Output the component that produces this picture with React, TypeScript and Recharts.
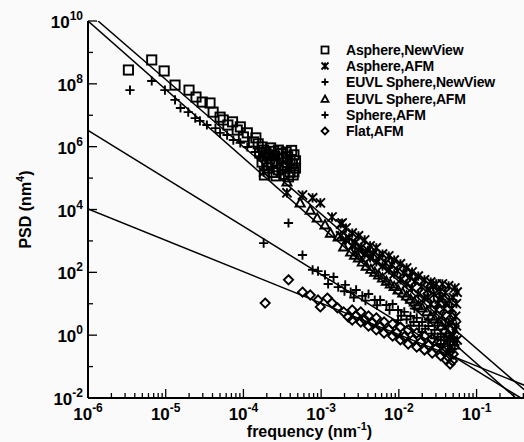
import React from 'react';
import { ScatterChart, Scatter, XAxis, YAxis, Legend } from 'recharts';

const FONT = '"Liberation Sans", Arial, Helvetica, sans-serif';

// points as [log10 frequency (nm^-1), log10 PSD (nm^4)]
const asphereNewView = [
  [-5.48, 8.44], [-5.18, 8.76], [-5.02, 8.41], [-4.88, 7.96], [-4.7, 7.8], [-4.61, 7.58],
  [-4.53, 7.42], [-4.43, 7.39], [-4.39, 7.1], [-4.3, 6.94], [-4.26, 6.85], [-4.2, 6.69],
  [-4.14, 6.79], [-4.08, 6.53], [-4.04, 6.63], [-4.0, 6.31], [-3.95, 6.44], [-3.87, 6.15],
  [-3.84, 6.28], [-3.81, 6.09], [-3.74, 5.89], [-3.69, 5.74], [-3.76, 5.99], [-3.71, 5.83],
  [-3.65, 5.96], [-3.6, 5.7], [-3.55, 5.89], [-3.5, 5.64], [-3.45, 5.83], [-3.4, 5.58],
  [-3.35, 5.74], [-3.76, 5.51], [-3.68, 5.32], [-3.63, 5.51], [-3.55, 5.26], [-3.47, 5.39],
  [-3.4, 5.19], [-3.33, 5.32], [-3.73, 5.1], [-3.58, 5.07], [-3.42, 5.04], [-3.37, 5.45],
  [-3.33, 5.55], [-3.62, 5.18], [-3.48, 5.12], [-3.36, 5.1], [-3.74, 5.7], [-3.66, 5.62],
  [-3.58, 5.46], [-3.52, 5.78], [-3.44, 5.5], [-3.38, 5.88], [-3.7, 5.42], [-3.61, 5.85],
  [-3.5, 5.32], [-3.43, 5.68], [-3.35, 5.2], [-3.79, 5.8],
];

const asphereAfm = [
  [-3.74, 5.19], [-3.44, 4.53], [-3.24, 4.46], [-3.11, 4.37], [-3.01, 4.21], [-2.86, 3.76],
  [-2.73, 3.57], [-2.6, 3.25], [-2.75, 3.54], [-2.75, 3.16], [-2.68, 3.41], [-2.68, 3.03],
  [-2.6, 2.84], [-2.52, 3.16], [-2.52, 2.71], [-2.44, 3.03], [-2.44, 2.58], [-2.37, 2.84],
  [-2.37, 2.46], [-2.29, 2.78], [-2.29, 2.33], [-2.21, 2.58], [-2.21, 2.2], [-2.13, 2.52],
  [-2.13, 2.08], [-2.06, 2.39], [-2.06, 1.95], [-1.98, 2.27], [-1.98, 1.76], [-1.9, 2.14],
  [-1.9, 1.63], [-1.83, 2.01], [-1.83, 1.5], [-1.75, 1.88], [-1.75, 1.31], [-1.67, 1.76],
  [-1.67, 1.18], [-1.59, 1.69], [-1.59, 0.99], [-1.52, 1.63], [-1.52, 0.8], [-1.44, 1.63],
  [-1.44, 0.61], [-1.36, 1.57], [-1.36, 0.36], [-1.28, 1.5], [-1.28, 0.17], [-1.25, 1.37],
  [-1.25, -0.15], [-2.17, 2.3], [-2.02, 2.05], [-1.86, 1.85], [-1.71, 1.55], [-1.63, 1.45],
  [-1.55, 1.3], [-1.48, 1.15], [-1.4, 1.0], [-1.32, 0.85], [-1.27, 0.6], [-1.3, 1.2],
  [-1.4, 1.35], [-1.26, 1.0], [-1.32, 0.4], [-1.47, 1.4], [-2.64, 3.1], [-2.56, 2.95],
  [-2.48, 2.8], [-2.4, 2.7], [-2.33, 2.6], [-2.25, 2.5], [-2.09, 2.25], [-1.94, 1.98],
  [-1.79, 1.72], [-1.63, 1.2], [-1.56, 1.55], [-1.5, 1.0], [-1.42, 0.85], [-1.34, 0.65],
  [-1.3, 0.0], [-1.26, 0.3], [-1.35, 1.1], [-1.44, 1.2],
];

const euvlSphereNewView = [
  [-5.46, 7.8], [-5.18, 8.09], [-5.01, 7.8], [-4.88, 7.49], [-4.81, 7.23], [-4.71, 7.1],
  [-4.62, 6.91], [-4.56, 6.82], [-4.47, 6.69], [-4.36, 6.59], [-4.3, 6.44], [-4.21, 6.37],
  [-4.13, 6.21], [-4.04, 6.12], [-3.95, 5.99], [-3.85, 5.83], [-3.78, 5.7],
];

const euvlSphereAfm = [
  [-3.44, 4.88], [-3.27, 4.21], [-3.14, 3.98], [-3.05, 3.73], [-2.95, 3.51], [-2.88, 3.25],
  [-2.78, 3.13], [-2.71, 2.81], [-2.62, 2.65], [-2.57, 2.55], [-2.52, 2.46], [-2.47, 2.33],
  [-2.42, 2.2], [-2.36, 2.1], [-2.31, 2.01], [-2.26, 1.92], [-2.21, 1.82], [-2.16, 1.72],
  [-2.11, 1.63], [-2.06, 1.55], [-2.01, 1.44], [-1.95, 1.35], [-1.9, 1.25], [-1.85, 1.15],
  [-1.8, 1.06], [-1.75, 0.95], [-1.7, 0.87], [-1.64, 0.75], [-1.59, 0.61], [-1.54, 0.52],
  [-1.49, 0.42], [-1.45, 0.3], [-1.41, 0.17], [-1.37, 0.05], [-1.34, -0.09], [-1.3, -0.2],
  [-1.28, -0.31],
];

const sphereAfm = [
  [-3.74, 2.93], [-3.42, 3.57], [-3.24, 2.55], [-3.11, 2.08], [-3.04, 2.04], [-2.95, 1.92],
  [-2.84, 1.85], [-2.91, 1.63], [-2.78, 1.53], [-2.69, 1.6], [-2.62, 1.37], [-2.55, 1.44],
  [-2.47, 1.25], [-2.39, 1.31], [-2.31, 1.12], [-2.24, 1.12], [-2.16, 0.96], [-2.08, 0.99],
  [-2.01, 0.8], [-1.93, 0.74], [-1.85, 0.61], [-1.77, 0.55], [-1.7, 0.42], [-1.62, 0.29],
  [-1.54, 0.17], [-1.46, 0.04], [-1.39, -0.03], [-1.34, -0.15], [-1.28, -0.31], [-2.01, 0.48],
  [-1.85, 0.3], [-1.7, 0.1], [-1.54, -0.1], [-1.46, -0.28], [-1.34, -0.53], [-1.8, 0.85],
  [-1.62, 0.5], [-1.5, 0.4], [-1.4, 0.3], [-2.7, 1.4], [-2.58, 1.2], [-2.43, 1.1],
  [-2.28, 0.95], [-2.12, 0.8], [-1.97, 0.62], [-1.9, 0.5], [-1.81, 0.42], [-1.74, 0.3],
  [-1.66, 0.2], [-1.58, 0.05], [-1.5, -0.05], [-1.42, -0.15], [-1.37, -0.35], [-1.31, -0.45],
  [-1.3, -0.1],
];

const flatAfm = [
  [-3.72, 1.02], [-3.42, 1.76], [-3.24, 1.37], [-3.14, 1.28], [-3.04, 1.12], [-3.01, 0.9],
  [-2.92, 1.18], [-2.86, 1.02], [-2.79, 0.87], [-2.71, 0.74], [-2.65, 0.58], [-2.6, 0.8],
  [-2.6, 0.48], [-2.49, 0.74], [-2.49, 0.42], [-2.39, 0.61], [-2.39, 0.29], [-2.29, 0.55],
  [-2.29, 0.17], [-2.19, 0.42], [-2.19, 0.07], [-2.08, 0.36], [-2.08, -0.03], [-1.98, 0.26],
  [-1.98, -0.15], [-1.88, 0.17], [-1.88, -0.28], [-1.77, 0.07], [-1.77, -0.38], [-1.67, -0.03],
  [-1.67, -0.47], [-1.57, -0.12], [-1.57, -0.57], [-1.46, -0.25], [-1.46, -0.66], [-1.39, -0.41],
  [-1.39, -0.79], [-1.34, -0.53], [-1.34, -0.92], [-2.55, 0.62], [-2.44, 0.5], [-2.34, 0.4],
  [-2.24, 0.28], [-2.13, 0.18], [-2.03, 0.08], [-1.93, -0.05], [-1.82, -0.15], [-1.72, -0.22],
  [-1.62, -0.32], [-1.52, -0.42], [-1.42, -0.52], [-1.36, -0.7], [-1.31, -0.82], [-1.3, -0.6],
];

// power-law fit lines, end points as [log10 f, log10 PSD]
const fitAsphere = [[-6, 10], [-0.495, -2]];
const fitEuvl = [[-5.87, 10], [-0.38, -1.75]];
const fitSphere = [[-6, 6.52], [-0.43, -2]];
const fitFlat = [[-6, 4.02], [-0.38, -1.6]];

const xDomain = [1e-6, 0.42];
const yDomain = [1e-2, 1e10];
const xDecades = [-6, -5, -4, -3, -2, -1];
const yDecades = [-2, -1, 0, 1, 2, 3, 4, 5, 6, 7, 8, 9, 10];

const xTicks = xDecades
  .flatMap((d) => [1, 2, 3, 4, 5, 6, 7, 8, 9].map((m) => m * Math.pow(10, d)))
  .filter((v) => v <= xDomain[1]);
const yTicks = yDecades.map((d) => Math.pow(10, d));

const toPoints = (pairs: number[][]) =>
  pairs.map(([lf, lp]) => ({ f: Math.pow(10, lf), psd: Math.pow(10, lp) }));

const series = [
  { name: 'Asphere,NewView', data: asphereNewView, kind: 'square' },
  { name: 'Asphere,AFM', data: asphereAfm, kind: 'star' },
  { name: 'EUVL Sphere,NewView', data: euvlSphereNewView, kind: 'plus' },
  { name: 'EUVL Sphere,AFM', data: euvlSphereAfm, kind: 'triangle' },
  { name: 'Sphere,AFM', data: sphereAfm, kind: 'plus' },
  { name: 'Flat,AFM', data: flatAfm, kind: 'diamond' },
];

const fits = [fitAsphere, fitEuvl, fitSphere, fitFlat];

const Marker = ({ kind, cx, cy, s = 4.6, w = 1.9 }: { kind: string; cx: number; cy: number; s?: number; w?: number }) => {
  const common = { fill: 'none', stroke: '#000', strokeWidth: w };
  if (kind === 'square') {
    return <rect x={cx - s} y={cy - s} width={2 * s} height={2 * s} {...common} />;
  }
  if (kind === 'star') {
    return (
      <path
        d={`M${cx - s},${cy - s}L${cx + s},${cy + s}M${cx - s},${cy + s}L${cx + s},${cy - s}M${cx},${cy - s}L${cx},${cy + s}`}
        {...common}
      />
    );
  }
  if (kind === 'plus') {
    return <path d={`M${cx - s},${cy}L${cx + s},${cy}M${cx},${cy - s}L${cx},${cy + s}`} {...common} />;
  }
  if (kind === 'triangle') {
    return <path d={`M${cx},${cy - s}L${cx + s},${cy + s * 0.8}L${cx - s},${cy + s * 0.8}Z`} {...common} />;
  }
  return <path d={`M${cx},${cy - s}L${cx + s},${cy}L${cx},${cy + s}L${cx - s},${cy}Z`} {...common} />;
};

const decadeOf = (v: number) => {
  const e = Math.round(Math.log10(v));
  return { e, major: Math.abs(v / Math.pow(10, e) - 1) < 1e-6 };
};

const BottomTick = (props: any) => {
  const { x, y, payload } = props;
  const { e, major } = decadeOf(payload.value);
  return (
    <g>
      <line x1={x} x2={x} y1={y} y2={y - (major ? 9 : 5)} stroke="#000" strokeWidth={1.3} />
      {major && (
        <text x={x} y={y + 22} textAnchor="middle" fontFamily={FONT} fontWeight="bold" fontSize={17} fill="#000">
          10<tspan dy={-8} fontSize={12}>{e}</tspan>
        </text>
      )}
    </g>
  );
};

const TopTick = (props: any) => {
  const { x, y, payload } = props;
  const { major } = decadeOf(payload.value);
  return <line x1={x} x2={x} y1={y} y2={y + (major ? 9 : 5)} stroke="#000" strokeWidth={1.3} />;
};

const LeftTick = (props: any) => {
  const { x, y, payload } = props;
  const e = Math.round(Math.log10(payload.value));
  const major = e % 2 === 0;
  return (
    <g>
      <line x1={x} x2={x + (major ? 9 : 5)} y1={y} y2={y} stroke="#000" strokeWidth={1.3} />
      {major && (
        <text x={x - 5} y={y + 7} textAnchor="end" fontFamily={FONT} fontWeight="bold" fontSize={17} fill="#000">
          10<tspan dy={-8} fontSize={12}>{e}</tspan>
        </text>
      )}
    </g>
  );
};

const RightTick = (props: any) => {
  const { x, y, payload } = props;
  const e = Math.round(Math.log10(payload.value));
  const major = e % 2 === 0;
  return <line x1={x} x2={x - (major ? 9 : 5)} y1={y} y2={y} stroke="#000" strokeWidth={1.3} />;
};

const XTitle = (props: any) => {
  const { viewBox } = props;
  return (
    <text x={viewBox.x + viewBox.width / 2 + 3} y={viewBox.y + 39} textAnchor="middle" fontFamily={FONT} fontWeight="bold" fontSize={16} fill="#000">
      frequency (nm<tspan dy={-7} fontSize={11}>-1</tspan><tspan dy={7}>)</tspan>
    </text>
  );
};

const YTitle = (props: any) => {
  const { viewBox } = props;
  const cy = viewBox.y + viewBox.height / 2;
  return (
    <text x={25} y={cy} transform={`rotate(-90 25 ${cy})`} textAnchor="middle" fontFamily={FONT} fontWeight="bold" fontSize={16} fill="#000" dy={6}>
      PSD (nm<tspan dy={-7} fontSize={11}>4</tspan><tspan dy={7}>)</tspan>
    </text>
  );
};

const LegendBox = () => (
  <div style={{ fontFamily: FONT, fontWeight: 'bold', fontSize: 14, color: '#000', letterSpacing: -0.2 }}>
    {series.map((s) => (
      <div key={s.name} style={{ display: 'flex', alignItems: 'center', height: 16.2, whiteSpace: 'nowrap' }}>
        <svg width={14} height={14} style={{ flex: 'none' }}>
          <Marker kind={s.kind} cx={7} cy={7} s={3.5} w={1.8} />
        </svg>
        <span style={{ marginLeft: 14 }}>{s.name}</span>
      </div>
    ))}
  </div>
);

export default function App() {
  return (
    <div style={{ position: 'absolute', left: 0, top: 0, width: 524, height: 442, overflow: 'hidden', background: '#fafafa' }}>
      <ScatterChart width={530} height={442} margin={{ top: 21, right: 5, bottom: 0, left: 0 }}>
        <XAxis
          dataKey="f"
          type="number"
          scale="log"
          domain={xDomain}
          allowDataOverflow
          ticks={xTicks}
          interval={0}
          tick={<BottomTick />}
          tickLine={false}
          tickSize={0}
          tickMargin={0}
          height={44}
          axisLine={{ stroke: '#000', strokeWidth: 2 }}
          label={<XTitle />}
        />
        <XAxis
          xAxisId="top"
          orientation="top"
          type="number"
          scale="log"
          domain={xDomain}
          allowDataOverflow
          ticks={xTicks}
          interval={0}
          tick={<TopTick />}
          tickLine={false}
          tickSize={0}
          tickMargin={0}
          height={0}
          axisLine={{ stroke: '#000', strokeWidth: 1.5 }}
        />
        <YAxis
          dataKey="psd"
          type="number"
          scale="log"
          domain={yDomain}
          allowDataOverflow
          ticks={yTicks}
          interval={0}
          tick={<LeftTick />}
          tickLine={false}
          tickSize={0}
          tickMargin={0}
          width={88}
          axisLine={{ stroke: '#000', strokeWidth: 2 }}
          label={<YTitle />}
        />
        <YAxis
          yAxisId="right"
          orientation="right"
          type="number"
          scale="log"
          domain={yDomain}
          allowDataOverflow
          ticks={yTicks}
          interval={0}
          tick={<RightTick />}
          tickLine={false}
          tickSize={0}
          tickMargin={0}
          width={0}
          axisLine={{ stroke: '#000', strokeWidth: 1.5 }}
        />
        <Legend
          layout="vertical"
          align="center"
          verticalAlign="middle"
          wrapperStyle={{ left: 318, top: 42, width: 200 }}
          content={() => <LegendBox />}
        />
        {fits.map((fit, i) => (
          <Scatter
            key={`fit-${i}`}
            data={toPoints(fit)}
            line={{ stroke: '#000', strokeWidth: 1.5 }}
            shape={() => <g />}
            legendType="none"
            isAnimationActive={false}
          />
        ))}
        {series.map((s) => (
          <Scatter
            key={s.name}
            name={s.name}
            data={toPoints(s.data)}
            shape={(p: any) => <Marker kind={s.kind} cx={p.cx} cy={p.cy} />}
            isAnimationActive={false}
          />
        ))}
      </ScatterChart>
    </div>
  );
}
